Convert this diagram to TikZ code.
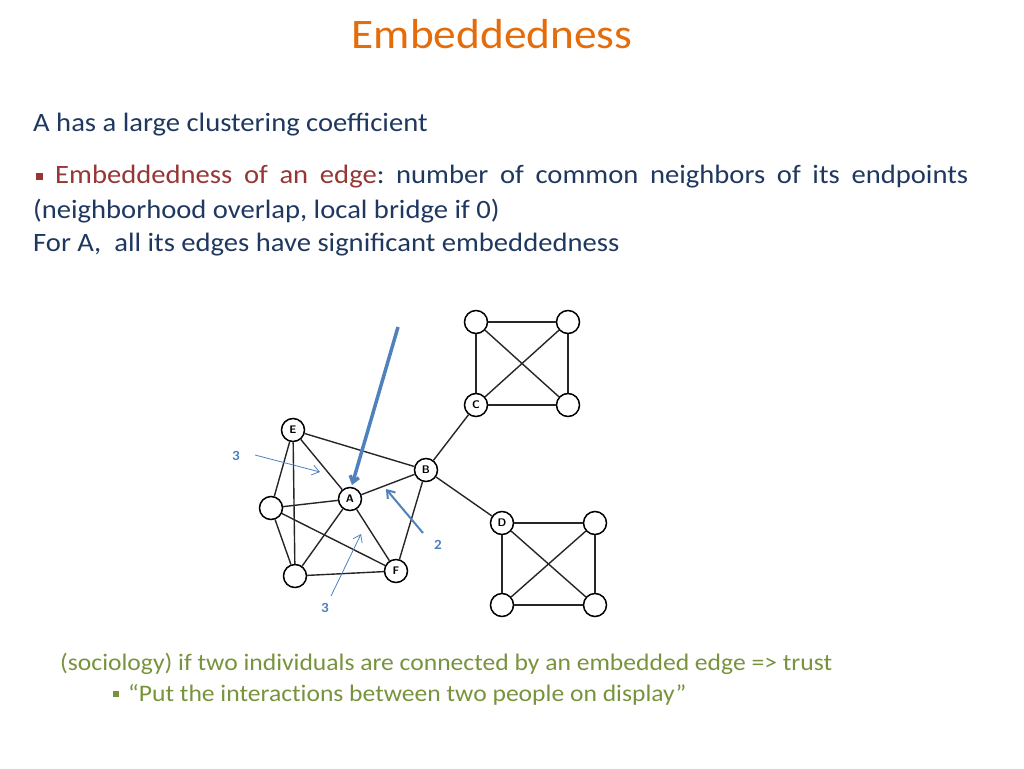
\documentclass[tikz,border=0pt]{standalone}
\usepackage{fontspec}
\setmainfont{Carlito}[FakeStretch=1.08]
\usetikzlibrary{arrows.meta}

\definecolor{titleorange}{RGB}{228,108,10}
\definecolor{textnavy}{RGB}{31,56,96}
\definecolor{termred}{RGB}{149,55,53}
\definecolor{notegreen}{RGB}{119,147,60}
\definecolor{markblue}{RGB}{79,129,189}

\tikzstyle{vtx}=[circle, draw, line width=1.5pt, fill=white, minimum size=23pt, inner sep=0pt, font=\sffamily\bfseries\fontsize{11}{11}\selectfont]
\tikzstyle{lnk}=[line width=1.4pt, black!85]
\tikzstyle{txt}=[anchor=west, inner sep=0pt, text=textnavy, font=\fontsize{26.5}{26.5}\selectfont]
\tikzstyle{grn}=[anchor=west, inner sep=0pt, text=notegreen, font=\fontsize{23.7}{23.7}\selectfont]
\tikzstyle{pointer}=[markblue, -{Straight Barb[length=7pt,width=10pt]}]
\tikzstyle{num}=[text=markblue, font=\bfseries\fontsize{14}{14}\selectfont]

\frenchspacing
\begin{document}
\begin{tikzpicture}[x=1pt, y=-1pt]
    \useasboundingbox (0,0) rectangle (1024,768);
    % title and text
    \node [text=titleorange, font=\fontsize{42}{42}\selectfont] (title) at (492,34) {Embeddedness};
    \node [txt] (l1) at (33,125) {A has a large clustering coefficient};
    \node [anchor=west, fill=termred, minimum size=7pt, inner sep=0pt] (bul1) at (36,176) {};
    \node [txt] (l2) at (55,177) {\makebox[913pt][s]{\textcolor{termred}{Embeddedness of an edge}: number of common neighbors of its endpoints}};
    \node [txt] (l3) at (33,211) {(neighborhood overlap, local bridge if 0)};
    \node [txt] (l4) at (33,245) {For A,\ \ all its edges have significant embeddedness};
    \node [grn] (g1) at (60,664) {(sociology) if two individuals are connected by an embedded edge => trust};
    \node [anchor=west, fill=notegreen, minimum size=6pt, inner sep=0pt] (bul2) at (113,694) {};
    \node [grn] (g2) at (128,695) {“Put the interact\kern0pt ions between two people on display”};

    % graph
    \node [vtx] (E) at (293,430) {E};
    \node [vtx] (B) at (426,470) {B};
    \node [vtx] (A) at (350,499) {A};
    \node [vtx] (L) at (271,508) {};
    \node [vtx] (G) at (295,576) {};
    \node [vtx] (F) at (396,571) {F};
    \node [vtx] (C) at (476,405) {C};
    \node [vtx] (c1) at (476,322) {};
    \node [vtx] (c2) at (568,322) {};
    \node [vtx] (c3) at (568,405) {};
    \node [vtx] (D) at (502,523) {D};
    \node [vtx] (d1) at (595,523) {};
    \node [vtx] (d2) at (502,605) {};
    \node [vtx] (d3) at (595,605) {};

    \foreach \u/\v in {E/B, E/A, E/L, E/G, L/A, L/F, L/G, G/A, G/F, A/F, A/B, B/F, B/C, B/D,
                       c1/c2, c1/C, c2/c3, C/c3, c1/c3, c2/C,
                       D/d1, D/d2, d1/d3, d2/d3, D/d3, d1/d2}
        \draw [lnk] (\u) -- (\v);

    % pointers
    \coordinate (bigtail) at (398,327);
    \coordinate (bighead) at (352,485);
    \draw [pointer, line width=3.5pt, -{Straight Barb[length=6pt,width=9pt]}] (bigtail) -- (bighead);

    \node [num] (n1) at (236,456) {3};
    \coordinate (t1) at (255,455);
    \coordinate (p1) at (320,472);
    \draw [pointer, line width=0.8pt] (t1) -- (p1);

    \node [num] (n2) at (438,545) {2};
    \coordinate (t2) at (423,533);
    \coordinate (p2) at (386,489);
    \draw [pointer, line width=2pt] (t2) -- (p2);

    \node [num] (n3) at (325,608) {3};
    \coordinate (t3) at (331,596);
    \coordinate (p3) at (361,534);
    \draw [pointer, line width=0.8pt] (t3) -- (p3);
\end{tikzpicture}
\end{document}
